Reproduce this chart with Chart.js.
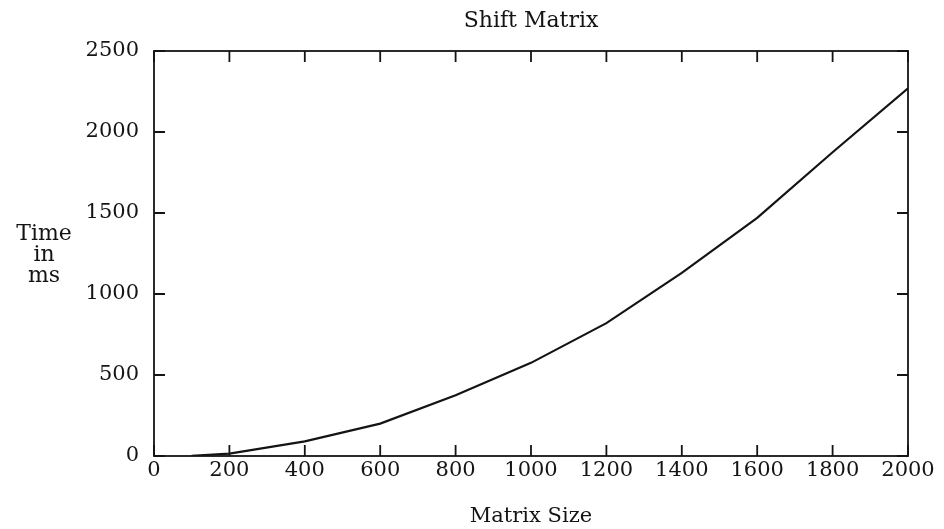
<!DOCTYPE html>
<html>
<head>
<meta charset="utf-8">
<title>Shift Matrix</title>
<script src="https://cdn.jsdelivr.net/npm/chart.js@4.4.1/dist/chart.umd.min.js"></script>
<style>
  html, body { margin: 0; padding: 0; background: #fff; }
  #wrap { width: 944px; height: 529px; }
</style>
</head>
<body>
<div id="wrap"><canvas id="shiftChart" width="944" height="529"></canvas></div>
<script>
// Timing measurements
const matrixSizes = [100, 200, 400, 600, 800, 1000, 1200, 1400, 1600, 1800, 2000];
const timeMs = [1, 15, 90, 200, 375, 575, 820, 1130, 1470, 1875, 2270];

const xTicks = [0, 200, 400, 600, 800, 1000, 1200, 1400, 1600, 1800, 2000];
const yTicks = [0, 500, 1000, 1500, 2000, 2500];
const yTitleLines = ['Time', 'in', 'ms'];

const FONT = 'DejaVu Serif';
const INK = '#141414';

// Frame with inward tick marks on all four sides, plus the stacked y label
const frameTicks = {
    id: 'frameTicks',
    afterDraw(chart) {
        const { ctx, chartArea: a, scales } = chart;
        const len = 11;
        ctx.save();
        ctx.strokeStyle = INK;
        ctx.lineWidth = 1.8;
        ctx.strokeRect(a.left, a.top, a.right - a.left, a.bottom - a.top);
        ctx.beginPath();
        scales.x.ticks.forEach(t => {
            const px = scales.x.getPixelForValue(t.value);
            ctx.moveTo(px, a.bottom); ctx.lineTo(px, a.bottom - len);
            ctx.moveTo(px, a.top); ctx.lineTo(px, a.top + len);
        });
        scales.y.ticks.forEach(t => {
            const py = scales.y.getPixelForValue(t.value);
            ctx.moveTo(a.left, py); ctx.lineTo(a.left + len, py);
            ctx.moveTo(a.right, py); ctx.lineTo(a.right - len, py);
        });
        ctx.stroke();

        ctx.fillStyle = INK;
        ctx.font = '22px "' + FONT + '"';
        ctx.textAlign = 'center';
        ctx.textBaseline = 'middle';
        yTitleLines.forEach((line, i) => {
            ctx.fillText(line, 44, 234 + i * 21);
        });
        ctx.restore();
    }
};

new Chart(document.getElementById('shiftChart'), {
    type: 'line',
    data: {
        datasets: [{
            data: matrixSizes.map((s, i) => ({ x: s, y: timeMs[i] })),
            borderColor: INK,
            borderWidth: 2.2,
            pointRadius: 0,
            tension: 0,
            fill: false
        }]
    },
    options: {
        responsive: false,
        animation: false,
        layout: { padding: { left: 0, right: 36, top: 0, bottom: 0 } },
        plugins: {
            legend: { display: false },
            tooltip: { enabled: false },
            title: {
                display: true,
                fullSize: false,
                text: 'Shift Matrix',
                color: INK,
                font: { family: FONT, size: 22, weight: 'normal' },
                padding: { top: 8, bottom: 16.6 }
            }
        },
        scales: {
            x: {
                type: 'linear',
                min: 0,
                max: 2000,
                afterBuildTicks: s => { s.ticks = xTicks.map(v => ({ value: v })); },
                afterFit: s => { s.height = 73; },
                border: { display: false },
                grid: { display: false, drawTicks: false },
                ticks: {
                    color: INK,
                    padding: 2,
                    maxRotation: 0,
                    autoSkip: false,
                    font: { family: FONT, size: 21 },
                    callback: v => String(v)
                },
                title: {
                    display: true,
                    text: 'Matrix Size',
                    color: INK,
                    font: { family: FONT, size: 21 },
                    padding: { top: 0, bottom: 0 }
                }
            },
            y: {
                type: 'linear',
                min: 0,
                max: 2500,
                afterBuildTicks: s => { s.ticks = yTicks.map(v => ({ value: v })); },
                afterFit: s => { s.width = 154; },
                border: { display: false },
                grid: { display: false, drawTicks: false },
                ticks: {
                    color: INK,
                    padding: 15,
                    autoSkip: false,
                    font: { family: FONT, size: 21 },
                    callback: v => String(v)
                }
            }
        }
    },
    plugins: [frameTicks]
});
</script>
</body>
</html>
